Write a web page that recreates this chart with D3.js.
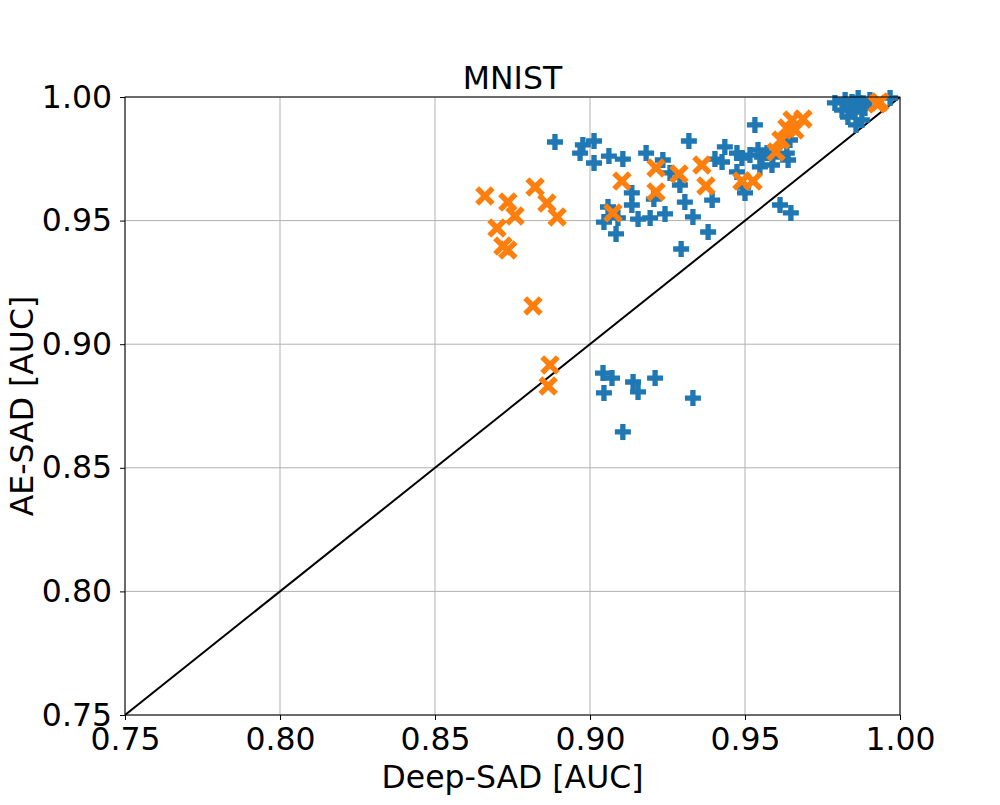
<!DOCTYPE html>
<html>
<head>
<meta charset="utf-8">
<script src="https://cdn.jsdelivr.net/npm/d3@7"></script>
<style>
  html, body { margin: 0; padding: 0; background: #fff; }
  svg text { font-family: "DejaVu Sans", sans-serif; fill: #000; }
</style>
</head>
<body>
<svg id="chart" width="1000" height="805"></svg>
<script>
// ---- data (Deep-SAD AUC, AE-SAD AUC) ----
const titleText = "MNIST";
const xLabel = "Deep-SAD [AUC]";
const yLabel = "AE-SAD [AUC]";
const tickValues = [0.75, 0.80, 0.85, 0.90, 0.95, 1.00];

const blueX = [0.8887,0.8968,0.8977,0.9013,0.9013,0.9061,0.9106,0.9181,0.9235,0.9258,
  0.9290,0.9306,0.9332,0.9319,0.9135,0.9135,0.9206,0.9242,0.9194,0.9155,
  0.9090,0.9058,0.9045,0.9084,0.9294,0.9381,0.9394,0.9532,0.9435,0.9403,
  0.9426,0.9474,0.9490,0.9516,0.9542,0.9555,0.9571,0.9590,0.9548,0.9587,
  0.9635,0.9639,0.9474,0.9494,0.9500,0.9645,0.9613,0.9648,
  0.9042,0.9071,0.9045,0.9139,0.9155,0.9210,0.9332,0.9106,
  0.9790,0.9823,0.9839,0.9832,0.9855,0.9871,0.9877,0.9858,0.9887,0.9865,
  0.9903,0.9968,0.9813,0.9845];
const blueY = [0.9818,0.9773,0.9806,0.9822,0.9733,0.9761,0.9749,0.9773,0.9745,0.9693,
  0.9644,0.9575,0.9515,0.9822,0.9612,0.9563,0.9587,0.9527,0.9511,0.9506,
  0.9511,0.9555,0.9494,0.9446,0.9385,0.9454,0.9583,0.9887,0.9798,0.9749,
  0.9737,0.9773,0.9753,0.9765,0.9786,0.9757,0.9773,0.9757,0.9717,0.9725,
  0.9773,0.9745,0.9697,0.9636,0.9612,0.9826,0.9563,0.9531,
  0.8883,0.8863,0.8803,0.8847,0.8807,0.8863,0.8782,0.8645,
  0.9976,0.9988,0.9955,0.9919,0.9939,0.9976,0.9907,0.9887,0.9955,0.9996,
  0.9988,0.9996,0.9947,0.9980];

const orangeX = [0.8661,0.8735,0.8758,0.8700,0.8719,0.8735,0.8823,0.8861,0.8894,0.8816,
  0.8871,0.8865,0.9074,0.9103,0.9213,0.9213,0.9287,0.9361,0.9374,0.9490,
  0.9526,0.9600,0.9616,0.9635,0.9652,0.9687,0.9661,0.9935,0.9926];
const orangeY = [0.9600,0.9575,0.9519,0.9470,0.9397,0.9381,0.9636,0.9571,0.9515,0.9155,
  0.8916,0.8831,0.9531,0.9660,0.9713,0.9616,0.9689,0.9725,0.9640,0.9660,
  0.9660,0.9778,0.9826,0.9875,0.9907,0.9911,0.9867,0.9980,0.9972];

const blueColor = "#1f77b4";
const orangeColor = "#ff7f0e";

// ---- layout ----
const svg = d3.select("#chart");
const L = 125, R = 900, T = 97, B = 715;
const FS = 31.5;
const x = d3.scaleLinear().domain([0.75, 1.0]).range([L, R]);
const y = d3.scaleLinear().domain([0.75, 1.0]).range([B, T]);

// grid
const grid = svg.append("g");
tickValues.forEach(v => {
  grid.append("line").attr("x1", x(v)).attr("x2", x(v)).attr("y1", T).attr("y2", B)
    .attr("stroke", "#b0b0b0").attr("stroke-width", 1);
  grid.append("line").attr("x1", L).attr("x2", R).attr("y1", y(v)).attr("y2", y(v))
    .attr("stroke", "#b0b0b0").attr("stroke-width", 1);
});

// diagonal y=x
svg.append("clipPath").attr("id", "clip")
  .append("rect").attr("x", L).attr("y", T).attr("width", R - L).attr("height", B - T);
const plot = svg.append("g").attr("clip-path", "url(#clip)");
plot.append("line").attr("x1", x(0.75)).attr("y1", y(0.75)).attr("x2", x(1.0)).attr("y2", y(1.0))
  .attr("stroke", "#000").attr("stroke-width", 2);

// marker shapes
function plusPath(s) { // filled plus, s = total width
  const a = s / 2, w = s / 6;
  return `M${-w},${-a}H${w}V${-w}H${a}V${w}H${w}V${a}H${-w}V${w}H${-a}V${-w}H${-w}Z`;
}
function xPath(s) { // filled X, s = total width
  const a = s / 2, w = s * 0.2;
  const pts = [[-w, 0], [-a, -a + w], [-a + w, -a], [0, -w], [a - w, -a], [a, -a + w],
               [w, 0], [a, a - w], [a - w, a], [0, w], [-a + w, a], [-a, a - w]];
  return "M" + pts.map(p => p.join(",")).join("L") + "Z";
}

const blue = blueX.map((v, i) => [v, blueY[i]]);
const orange = orangeX.map((v, i) => [v, orangeY[i]]);

svg.append("g").selectAll("path").data(blue).join("path")
  .attr("d", plusPath(16))
  .attr("transform", d => `translate(${x(d[0])},${y(d[1])})`)
  .attr("fill", blueColor);

svg.append("g").selectAll("path").data(orange).join("path")
  .attr("d", xPath(19.5))
  .attr("transform", d => `translate(${x(d[0])},${y(d[1])})`)
  .attr("fill", orangeColor);

// axes
const fmt = d3.format(".2f");
const xAxis = svg.append("g").attr("transform", `translate(0,${B})`)
  .call(d3.axisBottom(x).tickValues(tickValues).tickFormat(fmt).tickSize(5).tickPadding(8));
const yAxis = svg.append("g").attr("transform", `translate(${L},0)`)
  .call(d3.axisLeft(y).tickValues(tickValues).tickFormat(fmt).tickSize(5).tickPadding(8));
[xAxis, yAxis].forEach(g => {
  g.select(".domain").remove();
  g.selectAll("text").attr("font-size", FS).attr("font-family", "DejaVu Sans").attr("fill", "#000");
  g.selectAll("line").attr("stroke", "#000").attr("stroke-width", 1);
});

// spines
svg.append("rect").attr("x", L).attr("y", T).attr("width", R - L).attr("height", B - T)
  .attr("fill", "none").attr("stroke", "#000").attr("stroke-width", 1);

// labels
svg.append("text").attr("x", (L + R) / 2).attr("y", 89).attr("text-anchor", "middle")
  .attr("font-size", FS).text(titleText);
svg.append("text").attr("x", (L + R) / 2).attr("y", 788).attr("text-anchor", "middle")
  .attr("font-size", FS).text(xLabel);
svg.append("text").attr("transform", `translate(33,${(T + B) / 2}) rotate(-90)`)
  .attr("text-anchor", "middle").attr("font-size", FS).text(yLabel);
</script>
</body>
</html>
